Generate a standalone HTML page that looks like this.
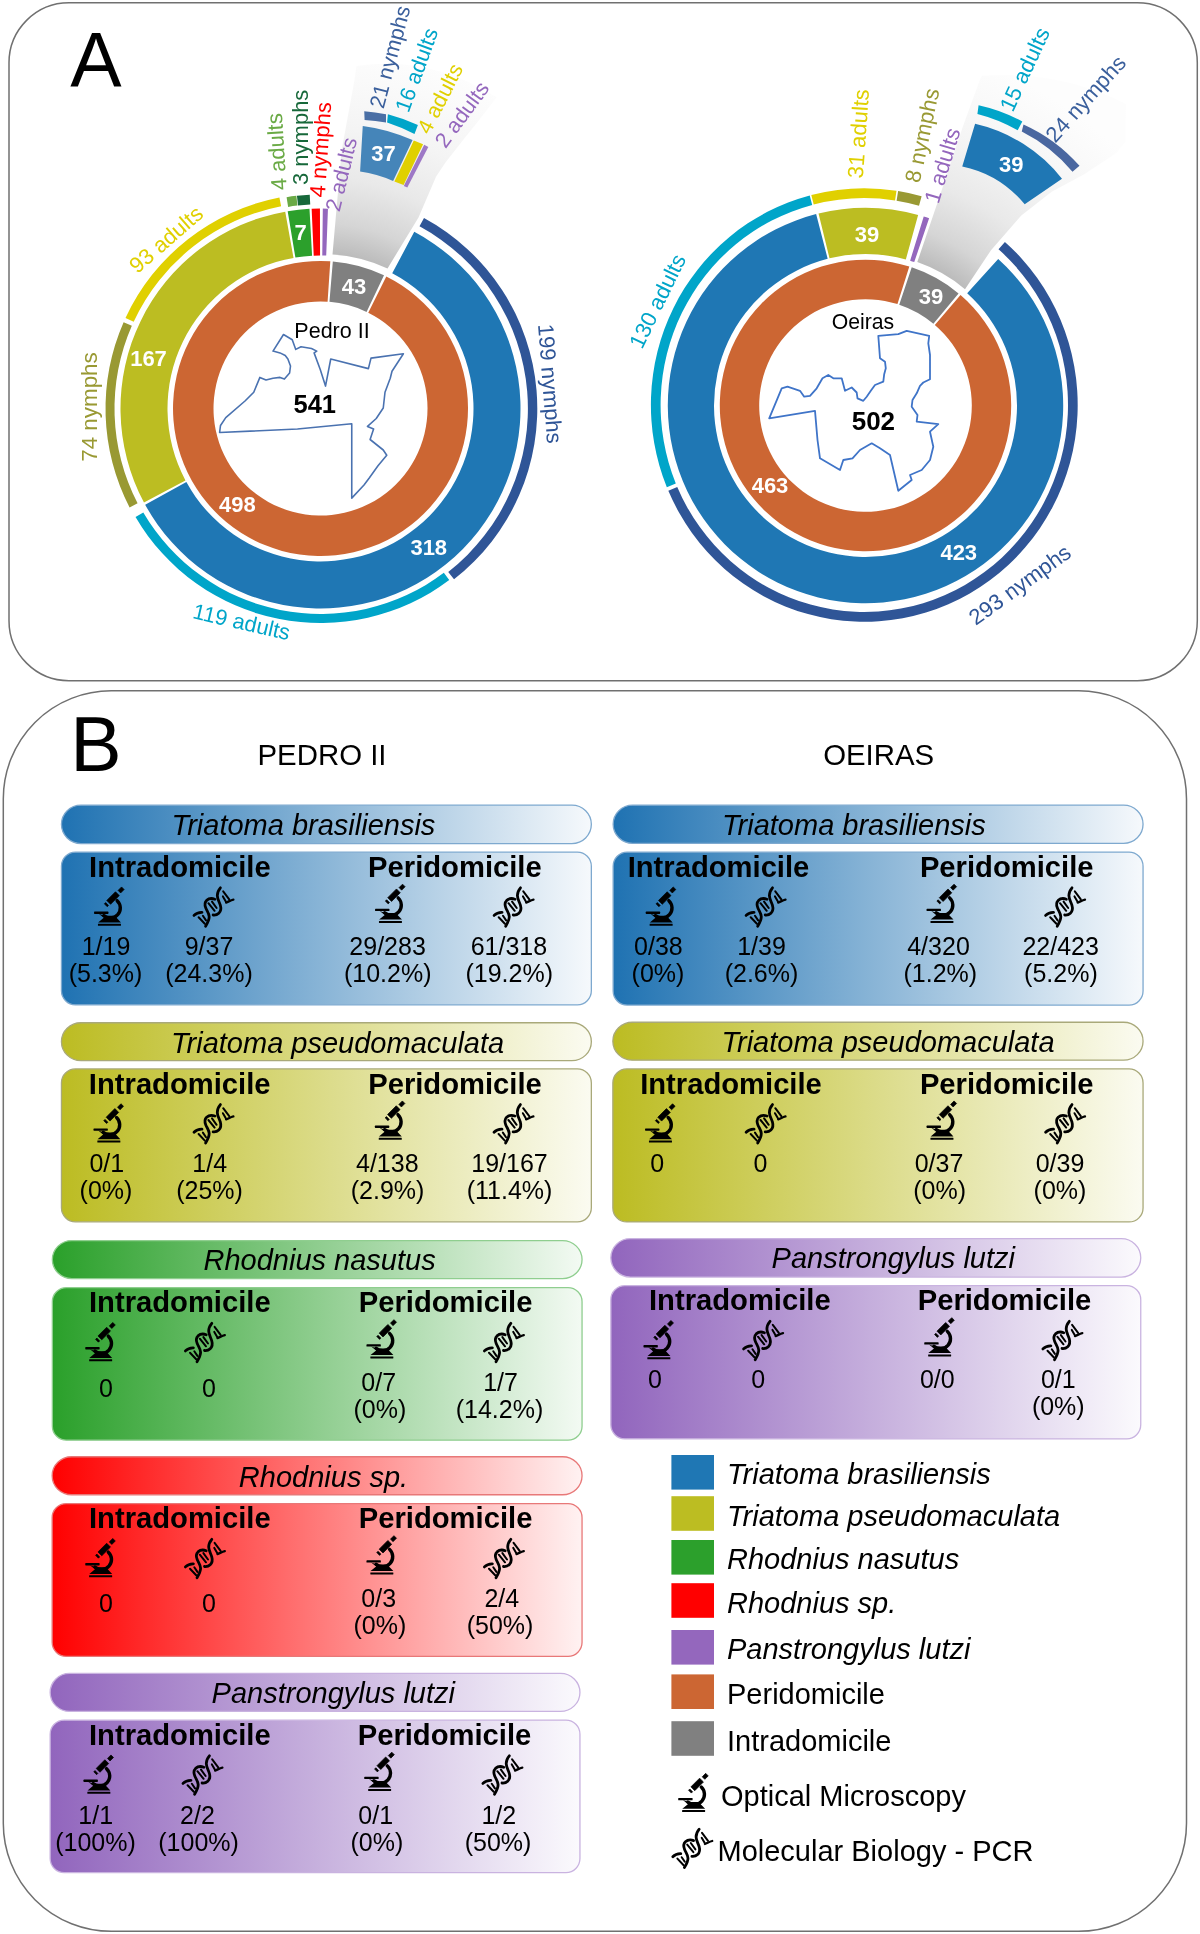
<!DOCTYPE html>
<html><head><meta charset="utf-8"><style>
html,body{margin:0;padding:0;background:#fff;}
svg{display:block;will-change:transform;}
text{font-family:"Liberation Sans",sans-serif;}
</style></head><body>
<svg width="1200" height="1934" viewBox="0 0 1200 1934">
<defs><radialGradient id="wedgeL" gradientUnits="userSpaceOnUse" cx="320.5" cy="408.5" r="360"><stop offset="0.425" stop-color="#bababa"/><stop offset="0.514" stop-color="#d5d5d5"/><stop offset="0.64" stop-color="#e9e9e9"/><stop offset="0.78" stop-color="#f4f4f4"/><stop offset="0.92" stop-color="#fafafa"/><stop offset="1" stop-color="#fdfdfd"/></radialGradient><radialGradient id="wedgeR" gradientUnits="userSpaceOnUse" cx="865.5" cy="405.5" r="360"><stop offset="0.42" stop-color="#bababa"/><stop offset="0.51" stop-color="#d5d5d5"/><stop offset="0.64" stop-color="#e9e9e9"/><stop offset="0.78" stop-color="#f4f4f4"/><stop offset="0.92" stop-color="#fafafa"/><stop offset="1" stop-color="#fdfdfd"/></radialGradient><linearGradient id="g_blue" x1="0" y1="0" x2="1" y2="0"><stop offset="0" stop-color="#1f72b2"/><stop offset="1" stop-color="#f6f9fc"/></linearGradient><linearGradient id="g_olive" x1="0" y1="0" x2="1" y2="0"><stop offset="0" stop-color="#bcbc22"/><stop offset="1" stop-color="#fbfbf1"/></linearGradient><linearGradient id="g_green" x1="0" y1="0" x2="1" y2="0"><stop offset="0" stop-color="#2aa02a"/><stop offset="1" stop-color="#f3faf3"/></linearGradient><linearGradient id="g_red" x1="0" y1="0" x2="1" y2="0"><stop offset="0" stop-color="#ff0000"/><stop offset="1" stop-color="#fff2f2"/></linearGradient><linearGradient id="g_purple" x1="0" y1="0" x2="1" y2="0"><stop offset="0" stop-color="#9165bd"/><stop offset="1" stop-color="#fbfafd"/></linearGradient><symbol id="mic" viewBox="0 0 40 46" overflow="visible"><g fill="#000"><polygon points="15.22,20.75 16.49,19.48 19.32,22.31 18.05,23.58" stroke="#000" stroke-width="0.7" stroke-linejoin="round"/><polygon points="17.62,17.36 26.32,8.66 30.14,12.48 21.44,21.18" stroke="#000" stroke-width="0.7" stroke-linejoin="round"/><polygon points="28.94,7.32 32.40,3.85 34.95,6.40 31.48,9.86" stroke="#000" stroke-width="0.7" stroke-linejoin="round"/><path d="M27.99,17.57 A10,10 0 0 1 14.61,32.43" fill="none" stroke="#000" stroke-width="3.4" stroke-linecap="round"/><rect x="4.9" y="28.5" width="14.4" height="2.3" rx="0.6"/><path d="M9.6,30.6 L14.6,34.7 L9,39.3 L31.8,39.3 L27.4,34.7 L28.6,32.6 L15.5,32.6 Z"/><rect x="8.8" y="40.6" width="23" height="2" rx="0.3"/></g></symbol><symbol id="dna" viewBox="0 0 48 48" overflow="visible"><g fill="none" stroke="#000" stroke-linecap="round" stroke-linejoin="round"><path stroke-width="2.8" d="M4.8,32.8 C6.5,31 9.5,29.6 12.8,29.7"/><path stroke-width="2.8" d="M16.4,43.6 C18,41 20,37 20,34.2 C20,31 17.8,28.5 16.6,25.5 C15.4,22.5 15.6,19.5 17.4,17.8 C19.4,16 22.6,15.5 25.6,16.6"/><path stroke-width="2.8" d="M31.2,5.2 C29.4,7.3 28.1,10 28.1,13 C28.1,16.5 30.2,19.5 31.1,22.5 C32,25.5 31.5,28.8 29.6,30.6 C27.9,32.2 25.6,32.6 23.9,32.4"/><path stroke-width="2.3" d="M36.9,20 C39,19.3 41.5,17.6 44.2,17"/><path stroke-width="2.0" d="M9.4,34.6 L15.6,41.2 M13.7,33.2 L16.8,37.8 M19.2,20.6 L25.4,28.2 M22.8,19 L27.4,25.4 M34,8.8 L40,16.8 M33.7,13.8 L36.6,18.8"/></g></symbol></defs>
<rect x="9" y="2.8" width="1188.3" height="677.9" rx="60" ry="60" fill="none" stroke="#707070" stroke-width="1.5"/>
<rect x="3.3" y="690.8" width="1183.2" height="1240.5" rx="108" ry="108" fill="none" stroke="#707070" stroke-width="1.5"/>
<text x="96.00" y="87.00" font-size="77" fill="#000" text-anchor="middle">A</text>
<text x="96.00" y="771.30" font-size="77" fill="#000" text-anchor="middle">B</text>
<path d="M332.5,254.5 L341.7,150 L354.5,80 L356.5,66 Q430,55 496.7,97.3 L476.8,123 L461.7,141.7 L445.3,162.7 L436,176.7 L418.5,217.5 L387.5,268.5 A153,153 0 0 0 332.5,254.5 Z" fill="url(#wedgeL)"/>
<path d="M332.83,261.52 A147.5,147.5 0 0 1 384.01,275.37 L366.57,311.93 A107,107 0 0 0 329.44,301.87 Z" fill="#808080" />
<path d="M386.30,276.49 A147.5,147.5 0 1 1 330.29,261.33 L327.60,301.74 A107,107 0 1 0 368.24,312.74 Z" fill="#cc6633" />
<path d="M414.26,231.84 A200,200 0 1 1 145.17,504.72 L186.37,482.11 A153,153 0 1 0 392.23,273.36 Z" fill="#1f77b4" />
<path d="M143.98,502.53 A200,200 0 0 1 285.23,211.63 L293.52,257.90 A153,153 0 0 0 185.46,480.43 Z" fill="#bcbd22" />
<path d="M287.69,211.21 A200,200 0 0 1 309.49,208.80 L312.07,255.73 A153,153 0 0 0 295.40,257.57 Z" fill="#2ca02c" />
<path d="M311.64,208.70 A200,200 0 0 1 319.94,208.50 L320.07,255.50 A153,153 0 0 0 313.72,255.65 Z" fill="#ff0000" />
<path d="M322.81,208.51 A200,200 0 0 1 327.96,208.64 L326.21,255.61 A153,153 0 0 0 322.27,255.51 Z" fill="#9467bd" />
<path d="M424.00,218.00 A216.8,216.8 0 0 1 454.02,579.30 L448.23,571.90 A207.4,207.4 0 0 0 419.51,226.26 Z" fill="#2f5597" />
<path d="M449.24,580.07 A214.5,214.5 0 0 1 135.53,517.10 L143.29,512.55 A205.5,205.5 0 0 0 443.83,572.87 Z" fill="#00a5c9" />
<path d="M129.59,507.38 A215,215 0 0 1 123.61,322.14 L131.85,325.76 A206,206 0 0 0 137.58,503.24 Z" fill="#999933" />
<path d="M125.51,317.92 A215,215 0 0 1 279.41,197.46 L281.13,206.30 A206,206 0 0 0 133.68,321.71 Z" fill="#e0d000" />
<path d="M286.59,197.20 A214,214 0 0 1 296.34,195.87 L297.45,205.61 A204.2,204.2 0 0 0 288.14,206.88 Z" fill="#6aaa45" />
<path d="M296.95,195.80 A214,214 0 0 1 309.74,194.77 L310.23,204.56 A204.2,204.2 0 0 0 298.03,205.54 Z" fill="#17683a" />
<path d="M362.75,125.9 A175,175 0 0 1 412.6,140.1 L393.1,181 A130,130 0 0 0 360.1,171.6 Z" fill="#4585b9"/>
<path d="M413.8,140.4 L423.1,144.3 L403.6,185 L394.4,181.6 Z" fill="#e0d000"/>
<path d="M424.2,144.7 L428.3,146.9 L407.3,187.6 L403.8,186 Z" fill="#9d78c6"/>
<path d="M364.25,111.25 A180,180 0 0 1 386,114.25 L386,122.5 A172,172 0 0 0 364.6,119.9 Z" fill="#4a6fa5"/>
<path d="M387.9,114.25 A180,180 0 0 1 417.9,125.1 L414.5,134.1 A172,172 0 0 0 387.1,122.5 Z" fill="#00a5c9"/>
<text x="354.00" y="293.50" font-size="22" fill="#ffffff" text-anchor="middle" font-weight="bold">43</text>
<text x="237.30" y="511.50" font-size="22" fill="#ffffff" text-anchor="middle" font-weight="bold">498</text>
<text x="428.75" y="555.00" font-size="22" fill="#ffffff" text-anchor="middle" font-weight="bold">318</text>
<text x="148.50" y="365.80" font-size="22" fill="#ffffff" text-anchor="middle" font-weight="bold">167</text>
<text x="300.60" y="240.20" font-size="22" fill="#ffffff" text-anchor="middle" font-weight="bold">7</text>
<text x="383.40" y="160.80" font-size="22" fill="#ffffff" text-anchor="middle" font-weight="bold">37</text>
<polygon points="219.6,432.5 220.5,425.5 225.75,417.6 245,401 253.75,392.25 259.9,377.4 266,380 273,378.25 280,377.4 284.4,379.1 289.6,373 290.5,366 287.9,359 285.25,355.5 280,352.9 273,351.1 283.5,334.5 292.25,339.75 295.75,349.4 301,346.75 311.5,348.5 316.75,351.1 314.1,352.9 320.25,369.5 325.5,386.1 330.75,359 368.4,368.6 371,358.1 403.4,353.75 392,371.25 390.25,378.25 385,392.25 383.25,408 376.25,418.5 367.5,426.4 373.6,429 370.1,439.5 383.25,450 386.75,455.25 378,465.75 369.25,478 364,485 351.75,498.1 351.75,423.75 297.5,429" fill="none" stroke="#4a72b0" stroke-width="1.6" stroke-linejoin="round"/>
<text x="332.00" y="338.00" font-size="21.5" fill="#000" text-anchor="middle">Pedro II</text>
<text x="314.75" y="413.25" font-size="25.5" fill="#000" text-anchor="middle" font-weight="bold">541</text>
<path d="M917.3,262.1 L941.2,191.7 L962.8,126.7 L980.2,79 L982.3,75.8 Q1060,70 1126,104 L1125.3,141.8 L1116.7,152.7 L1084.2,174.3 L1051.7,191.7 L1021.3,215.5 L991,250.2 L965,289.2 A151.5,151.5 0 0 0 917.3,262.1 Z" fill="url(#wedgeR)"/>
<path d="M911.73,267.33 A145.7,145.7 0 0 1 958.57,293.40 L933.40,323.71 A106.3,106.3 0 0 0 899.23,304.69 Z" fill="#808080" />
<path d="M960.51,295.04 A145.7,145.7 0 1 1 909.31,266.54 L897.46,304.12 A106.3,106.3 0 1 0 934.82,324.91 Z" fill="#cc6633" />
<path d="M998.20,258.95 A197.7,197.7 0 1 1 816.13,214.06 L827.67,258.80 A151.5,151.5 0 1 0 967.19,293.20 Z" fill="#1f77b4" />
<path d="M818.55,213.46 A197.7,197.7 0 0 1 918.13,214.93 L905.83,259.47 A151.5,151.5 0 0 0 829.52,258.33 Z" fill="#bcbd22" />
<path d="M923.73,216.57 A197.7,197.7 0 0 1 929.11,218.31 L914.24,262.06 A151.5,151.5 0 0 0 910.13,260.72 Z" fill="#9467bd" />
<g transform="translate(864.3,405) scale(1,1.016) translate(-864.3,-405)">
<path d="M1004.92,244.48 A213.4,213.4 0 1 1 668.33,489.48 L677.24,485.64 A203.7,203.7 0 1 0 998.53,251.78 Z" fill="#2f5597" />
<path d="M666.83,485.91 A213.4,213.4 0 0 1 809.72,198.70 L812.20,208.08 A203.7,203.7 0 0 0 675.81,482.23 Z" fill="#00a5c9" />
<path d="M811.30,198.29 A213.4,213.4 0 0 1 896.51,194.04 L895.04,203.63 A203.7,203.7 0 0 0 813.71,207.68 Z" fill="#e0d000" />
<path d="M898.12,194.30 A213.4,213.4 0 0 1 921.62,199.44 L919.01,208.78 A203.7,203.7 0 0 0 896.59,203.87 Z" fill="#999933" />
</g>
<path d="M975.1,123.8 A155,155 0 0 1 1062,178.7 L1024.7,204.3 A110,110 0 0 0 962.25,166.4 Z" fill="#1f77b4"/>
<path d="M978.6,105.2 A165,165 0 0 1 1022.3,121.5 L1017.7,130.25 A160,160 0 0 0 977.4,113.9 Z" fill="#00a5c9"/>
<path d="M1023.5,124.4 A165,165 0 0 1 1079.5,165.8 L1072.5,171.7 A160,160 0 0 0 1021.75,131.4 Z" fill="#4a67a0"/>
<text x="867.00" y="241.50" font-size="22" fill="#ffffff" text-anchor="middle" font-weight="bold">39</text>
<text x="931.00" y="303.50" font-size="22" fill="#ffffff" text-anchor="middle" font-weight="bold">39</text>
<text x="1011.25" y="172.25" font-size="22" fill="#ffffff" text-anchor="middle" font-weight="bold">39</text>
<text x="770.00" y="492.50" font-size="22" fill="#ffffff" text-anchor="middle" font-weight="bold">463</text>
<text x="958.75" y="560.00" font-size="22" fill="#ffffff" text-anchor="middle" font-weight="bold">423</text>
<polygon points="769.2,418.3 781.7,388.3 787.5,386.7 800,390.8 804.2,396.7 810,395.8 816.7,388.3 822.5,378.3 828.3,375 833.3,378.3 841.7,378.3 845,390.8 851.7,387.5 856.7,392.5 857.5,398.3 863.3,400.8 866.7,396.7 870.8,390.8 875,385 883.3,381.7 884.2,374.2 885.8,368.3 885,361.7 880,358.3 878.3,335.8 898.3,334.2 906.7,330.8 929.2,335.8 928.3,343.3 930,355 930,379.2 923.3,382.5 920,385.8 916.7,393.3 912.5,400 911.7,406.7 917.5,415 916.7,421.7 938.3,424.2 930,431.7 933.3,446.7 930,460 921.7,470 910,475 911.7,480 898.3,490.8 890,455 880,448.3 871.7,443.3 860,450 852.5,458.3 843.3,460 840,470 820,458.3 817.5,440 815,410.8" fill="none" stroke="#3f74c8" stroke-width="1.8" stroke-linejoin="round"/>
<text x="862.90" y="329.20" font-size="21.2" fill="#000" text-anchor="middle">Oeiras</text>
<text x="873.40" y="430.00" font-size="26" fill="#000" text-anchor="middle" font-weight="bold">502</text>
<text x="171.00" y="245.00" font-size="22" fill="#e0d000" text-anchor="middle" transform="rotate(-41 171.00 245.00)">93 adults</text>
<text x="97.20" y="407.00" font-size="22.4" fill="#999933" text-anchor="middle" transform="rotate(-90 97.20 407.00)">74 nymphs</text>
<text x="240.00" y="629.20" font-size="21.8" fill="#00a5c9" text-anchor="middle" transform="rotate(13 240.00 629.20)">119 adults</text>
<text x="542.60" y="384.30" font-size="22" fill="#2f5597" text-anchor="middle" transform="rotate(85.6 542.60 384.30)">199 nymphs</text>
<text x="284.30" y="151.30" font-size="22" fill="#6aaa45" text-anchor="middle" transform="rotate(-93.5 284.30 151.30)">4 adults</text>
<text x="307.80" y="137.30" font-size="22" fill="#17683a" text-anchor="middle" transform="rotate(-90 307.80 137.30)">3 nymphs</text>
<text x="328.00" y="150.20" font-size="22" fill="#ff0000" text-anchor="middle" transform="rotate(-86 328.00 150.20)">4 nymphs</text>
<text x="348.40" y="176.00" font-size="21.5" fill="#9467bd" text-anchor="middle" transform="rotate(-76.3 348.40 176.00)">2 adults</text>
<text x="397.00" y="58.80" font-size="21.5" fill="#3a5f9c" text-anchor="middle" transform="rotate(-75 397.00 58.80)">21 nymphs</text>
<text x="423.50" y="72.50" font-size="21.5" fill="#00a5c9" text-anchor="middle" transform="rotate(-70 423.50 72.50)">16 adults</text>
<text x="446.50" y="102.00" font-size="21.5" fill="#e0d000" text-anchor="middle" transform="rotate(-63 446.50 102.00)">4 adults</text>
<text x="467.80" y="118.80" font-size="21.5" fill="#9467bd" text-anchor="middle" transform="rotate(-53.7 467.80 118.80)">2 adults</text>
<text x="664.30" y="304.40" font-size="22" fill="#00a5c9" text-anchor="middle" transform="rotate(-64 664.30 304.40)">130 adults</text>
<text x="1024.30" y="590.90" font-size="22" fill="#2f5597" text-anchor="middle" transform="rotate(-36 1024.30 590.90)">293 nymphs</text>
<text x="866.00" y="134.20" font-size="22" fill="#e0d000" text-anchor="middle" transform="rotate(-86 866.00 134.20)">31 adults</text>
<text x="929.50" y="137.00" font-size="22" fill="#999933" text-anchor="middle" transform="rotate(-78 929.50 137.00)">8 nymphs</text>
<text x="949.50" y="167.50" font-size="22" fill="#9467bd" text-anchor="middle" transform="rotate(-73.3 949.50 167.50)">1 adults</text>
<text x="1031.50" y="72.50" font-size="22" fill="#00a5c9" text-anchor="middle" transform="rotate(-65 1031.50 72.50)">15 adults</text>
<text x="1091.25" y="103.75" font-size="22" fill="#3a5f9c" text-anchor="middle" transform="rotate(-48 1091.25 103.75)">24 nymphs</text>
<rect x="61.45" y="805.15" width="529.90" height="38.40" rx="19.5" fill="url(#g_blue)" stroke="#7ea9cf" stroke-width="1.3"/>
<text x="303.50" y="834.90" font-size="29" fill="#000" text-anchor="middle" font-style="italic">Triatoma brasiliensis</text>
<rect x="61.45" y="852.15" width="529.90" height="152.70" rx="14" fill="url(#g_blue)" stroke="#7ea9cf" stroke-width="1.3"/>
<text x="179.90" y="876.80" font-size="29.2" fill="#000" text-anchor="middle" font-weight="bold">Intradomicile</text>
<text x="454.90" y="876.80" font-size="29.2" fill="#000" text-anchor="middle" font-weight="bold">Peridomicile</text>
<use href="#mic" x="89.15" y="883.10" width="40" height="46"/>
<text x="106.00" y="954.80" font-size="25" fill="#000" text-anchor="middle">1/19</text>
<text x="105.50" y="982.00" font-size="25" fill="#000" text-anchor="middle">(5.3%)</text>
<use href="#dna" x="189.20" y="882.60" width="48" height="48"/>
<text x="209.00" y="954.80" font-size="25" fill="#000" text-anchor="middle">9/37</text>
<text x="209.00" y="982.00" font-size="25" fill="#000" text-anchor="middle">(24.3%)</text>
<use href="#mic" x="370.15" y="880.30" width="40" height="46"/>
<text x="387.60" y="954.80" font-size="25" fill="#000" text-anchor="middle">29/283</text>
<text x="387.70" y="982.00" font-size="25" fill="#000" text-anchor="middle">(10.2%)</text>
<use href="#dna" x="489.30" y="882.60" width="48" height="48"/>
<text x="508.90" y="954.80" font-size="25" fill="#000" text-anchor="middle">61/318</text>
<text x="509.20" y="982.00" font-size="25" fill="#000" text-anchor="middle">(19.2%)</text>
<rect x="61.45" y="1022.75" width="529.90" height="37.90" rx="19.5" fill="url(#g_olive)" stroke="#a9a97a" stroke-width="1.3"/>
<text x="337.60" y="1052.50" font-size="29" fill="#000" text-anchor="middle" font-style="italic">Triatoma pseudomaculata</text>
<rect x="61.45" y="1068.95" width="529.90" height="152.90" rx="14" fill="url(#g_olive)" stroke="#a9a97a" stroke-width="1.3"/>
<text x="179.70" y="1093.60" font-size="29.2" fill="#000" text-anchor="middle" font-weight="bold">Intradomicile</text>
<text x="455.00" y="1093.60" font-size="29.2" fill="#000" text-anchor="middle" font-weight="bold">Peridomicile</text>
<use href="#mic" x="88.55" y="1099.90" width="40" height="46"/>
<text x="106.80" y="1171.80" font-size="25" fill="#000" text-anchor="middle">0/1</text>
<text x="106.00" y="1199.00" font-size="25" fill="#000" text-anchor="middle">(0%)</text>
<use href="#dna" x="189.20" y="1099.40" width="48" height="48"/>
<text x="209.70" y="1171.80" font-size="25" fill="#000" text-anchor="middle">1/4</text>
<text x="209.50" y="1199.00" font-size="25" fill="#000" text-anchor="middle">(25%)</text>
<use href="#mic" x="369.95" y="1097.10" width="40" height="46"/>
<text x="387.30" y="1171.80" font-size="25" fill="#000" text-anchor="middle">4/138</text>
<text x="387.60" y="1199.00" font-size="25" fill="#000" text-anchor="middle">(2.9%)</text>
<use href="#dna" x="489.20" y="1099.40" width="48" height="48"/>
<text x="509.50" y="1171.80" font-size="25" fill="#000" text-anchor="middle">19/167</text>
<text x="509.50" y="1199.00" font-size="25" fill="#000" text-anchor="middle">(11.4%)</text>
<rect x="52.35" y="1240.55" width="529.70" height="38.10" rx="19.5" fill="url(#g_green)" stroke="#8fce8f" stroke-width="1.3"/>
<text x="319.60" y="1270.30" font-size="29" fill="#000" text-anchor="middle" font-style="italic">Rhodnius nasutus</text>
<rect x="52.35" y="1287.65" width="529.70" height="152.50" rx="14" fill="url(#g_green)" stroke="#8fce8f" stroke-width="1.3"/>
<text x="179.80" y="1312.30" font-size="29.2" fill="#000" text-anchor="middle" font-weight="bold">Intradomicile</text>
<text x="445.60" y="1312.30" font-size="29.2" fill="#000" text-anchor="middle" font-weight="bold">Peridomicile</text>
<use href="#mic" x="80.35" y="1318.60" width="40" height="46"/>
<text x="106.00" y="1396.80" font-size="25" fill="#000" text-anchor="middle">0</text>
<use href="#dna" x="180.60" y="1318.10" width="48" height="48"/>
<text x="208.90" y="1396.80" font-size="25" fill="#000" text-anchor="middle">0</text>
<use href="#mic" x="361.55" y="1315.80" width="40" height="46"/>
<text x="378.70" y="1391.20" font-size="25" fill="#000" text-anchor="middle">0/7</text>
<text x="379.90" y="1418.00" font-size="25" fill="#000" text-anchor="middle">(0%)</text>
<use href="#dna" x="479.60" y="1318.10" width="48" height="48"/>
<text x="500.60" y="1391.20" font-size="25" fill="#000" text-anchor="middle">1/7</text>
<text x="499.50" y="1418.00" font-size="25" fill="#000" text-anchor="middle">(14.2%)</text>
<rect x="52.15" y="1456.75" width="529.90" height="38.00" rx="19.5" fill="url(#g_red)" stroke="#e87878" stroke-width="1.3"/>
<text x="323.50" y="1486.50" font-size="29" fill="#000" text-anchor="middle" font-style="italic">Rhodnius sp.</text>
<rect x="52.15" y="1503.65" width="529.90" height="152.70" rx="14" fill="url(#g_red)" stroke="#e87878" stroke-width="1.3"/>
<text x="179.80" y="1528.30" font-size="29.2" fill="#000" text-anchor="middle" font-weight="bold">Intradomicile</text>
<text x="445.60" y="1528.30" font-size="29.2" fill="#000" text-anchor="middle" font-weight="bold">Peridomicile</text>
<use href="#mic" x="80.35" y="1534.60" width="40" height="46"/>
<text x="106.00" y="1611.80" font-size="25" fill="#000" text-anchor="middle">0</text>
<use href="#dna" x="180.60" y="1534.10" width="48" height="48"/>
<text x="208.90" y="1611.80" font-size="25" fill="#000" text-anchor="middle">0</text>
<use href="#mic" x="361.55" y="1531.80" width="40" height="46"/>
<text x="378.70" y="1607.00" font-size="25" fill="#000" text-anchor="middle">0/3</text>
<text x="379.90" y="1634.00" font-size="25" fill="#000" text-anchor="middle">(0%)</text>
<use href="#dna" x="479.60" y="1534.10" width="48" height="48"/>
<text x="501.80" y="1607.00" font-size="25" fill="#000" text-anchor="middle">2/4</text>
<text x="500.00" y="1634.00" font-size="25" fill="#000" text-anchor="middle">(50%)</text>
<rect x="50.15" y="1673.35" width="529.80" height="38.10" rx="19.5" fill="url(#g_purple)" stroke="#c9b3e0" stroke-width="1.3"/>
<text x="333.30" y="1703.10" font-size="29" fill="#000" text-anchor="middle" font-style="italic">Panstrongylus lutzi</text>
<rect x="50.15" y="1720.15" width="529.80" height="152.40" rx="14" fill="url(#g_purple)" stroke="#c9b3e0" stroke-width="1.3"/>
<text x="179.80" y="1744.80" font-size="29.2" fill="#000" text-anchor="middle" font-weight="bold">Intradomicile</text>
<text x="444.50" y="1744.80" font-size="29.2" fill="#000" text-anchor="middle" font-weight="bold">Peridomicile</text>
<use href="#mic" x="78.55" y="1751.10" width="40" height="46"/>
<text x="95.70" y="1823.90" font-size="25" fill="#000" text-anchor="middle">1/1</text>
<text x="95.50" y="1850.90" font-size="25" fill="#000" text-anchor="middle">(100%)</text>
<use href="#dna" x="178.20" y="1750.60" width="48" height="48"/>
<text x="197.50" y="1823.90" font-size="25" fill="#000" text-anchor="middle">2/2</text>
<text x="198.60" y="1850.90" font-size="25" fill="#000" text-anchor="middle">(100%)</text>
<use href="#mic" x="359.35" y="1748.30" width="40" height="46"/>
<text x="375.70" y="1823.90" font-size="25" fill="#000" text-anchor="middle">0/1</text>
<text x="376.90" y="1850.90" font-size="25" fill="#000" text-anchor="middle">(0%)</text>
<use href="#dna" x="478.10" y="1750.60" width="48" height="48"/>
<text x="498.80" y="1823.90" font-size="25" fill="#000" text-anchor="middle">1/2</text>
<text x="498.00" y="1850.90" font-size="25" fill="#000" text-anchor="middle">(50%)</text>
<rect x="613.15" y="805.15" width="529.90" height="38.20" rx="19.5" fill="url(#g_blue)" stroke="#7ea9cf" stroke-width="1.3"/>
<text x="853.90" y="834.90" font-size="29" fill="#000" text-anchor="middle" font-style="italic">Triatoma brasiliensis</text>
<rect x="613.15" y="852.15" width="529.90" height="152.90" rx="14" fill="url(#g_blue)" stroke="#7ea9cf" stroke-width="1.3"/>
<text x="718.50" y="876.80" font-size="29.2" fill="#000" text-anchor="middle" font-weight="bold">Intradomicile</text>
<text x="1006.70" y="876.80" font-size="29.2" fill="#000" text-anchor="middle" font-weight="bold">Peridomicile</text>
<use href="#mic" x="640.85" y="883.10" width="40" height="46"/>
<text x="658.40" y="954.80" font-size="25" fill="#000" text-anchor="middle">0/38</text>
<text x="658.00" y="982.00" font-size="25" fill="#000" text-anchor="middle">(0%)</text>
<use href="#dna" x="741.30" y="882.60" width="48" height="48"/>
<text x="761.50" y="954.80" font-size="25" fill="#000" text-anchor="middle">1/39</text>
<text x="761.50" y="982.00" font-size="25" fill="#000" text-anchor="middle">(2.6%)</text>
<use href="#mic" x="921.65" y="880.30" width="40" height="46"/>
<text x="938.50" y="954.80" font-size="25" fill="#000" text-anchor="middle">4/320</text>
<text x="940.30" y="982.00" font-size="25" fill="#000" text-anchor="middle">(1.2%)</text>
<use href="#dna" x="1040.80" y="882.60" width="48" height="48"/>
<text x="1060.70" y="954.80" font-size="25" fill="#000" text-anchor="middle">22/423</text>
<text x="1060.90" y="982.00" font-size="25" fill="#000" text-anchor="middle">(5.2%)</text>
<rect x="612.85" y="1022.25" width="530.20" height="37.90" rx="19.5" fill="url(#g_olive)" stroke="#a9a97a" stroke-width="1.3"/>
<text x="888.00" y="1052.00" font-size="29" fill="#000" text-anchor="middle" font-style="italic">Triatoma pseudomaculata</text>
<rect x="612.85" y="1068.95" width="530.20" height="153.00" rx="14" fill="url(#g_olive)" stroke="#a9a97a" stroke-width="1.3"/>
<text x="731.00" y="1093.60" font-size="29.2" fill="#000" text-anchor="middle" font-weight="bold">Intradomicile</text>
<text x="1006.70" y="1093.60" font-size="29.2" fill="#000" text-anchor="middle" font-weight="bold">Peridomicile</text>
<use href="#mic" x="640.15" y="1099.90" width="40" height="46"/>
<text x="657.30" y="1172.30" font-size="25" fill="#000" text-anchor="middle">0</text>
<use href="#dna" x="741.30" y="1099.40" width="48" height="48"/>
<text x="760.50" y="1172.30" font-size="25" fill="#000" text-anchor="middle">0</text>
<use href="#mic" x="921.65" y="1097.10" width="40" height="46"/>
<text x="939.00" y="1172.30" font-size="25" fill="#000" text-anchor="middle">0/37</text>
<text x="939.60" y="1199.30" font-size="25" fill="#000" text-anchor="middle">(0%)</text>
<use href="#dna" x="1040.80" y="1099.40" width="48" height="48"/>
<text x="1060.00" y="1172.30" font-size="25" fill="#000" text-anchor="middle">0/39</text>
<text x="1060.00" y="1199.30" font-size="25" fill="#000" text-anchor="middle">(0%)</text>
<rect x="610.85" y="1238.65" width="529.90" height="38.40" rx="19.5" fill="url(#g_purple)" stroke="#c9b3e0" stroke-width="1.3"/>
<text x="893.30" y="1268.40" font-size="29" fill="#000" text-anchor="middle" font-style="italic">Panstrongylus lutzi</text>
<rect x="610.85" y="1285.65" width="529.90" height="153.20" rx="14" fill="url(#g_purple)" stroke="#c9b3e0" stroke-width="1.3"/>
<text x="739.80" y="1310.30" font-size="29.2" fill="#000" text-anchor="middle" font-weight="bold">Intradomicile</text>
<text x="1004.50" y="1310.30" font-size="29.2" fill="#000" text-anchor="middle" font-weight="bold">Peridomicile</text>
<use href="#mic" x="638.55" y="1316.60" width="40" height="46"/>
<text x="655.00" y="1387.60" font-size="25" fill="#000" text-anchor="middle">0</text>
<use href="#dna" x="738.80" y="1316.10" width="48" height="48"/>
<text x="758.30" y="1387.60" font-size="25" fill="#000" text-anchor="middle">0</text>
<use href="#mic" x="919.35" y="1313.80" width="40" height="46"/>
<text x="937.30" y="1387.60" font-size="25" fill="#000" text-anchor="middle">0/0</text>
<use href="#dna" x="1038.10" y="1316.10" width="48" height="48"/>
<text x="1058.30" y="1387.60" font-size="25" fill="#000" text-anchor="middle">0/1</text>
<text x="1058.30" y="1414.80" font-size="25" fill="#000" text-anchor="middle">(0%)</text>
<text x="322.00" y="764.90" font-size="29.4" fill="#000" text-anchor="middle">PEDRO II</text>
<text x="878.70" y="765.00" font-size="29.4" fill="#000" text-anchor="middle">OEIRAS</text>
<rect x="671.4" y="1455" width="42.6" height="34.6" fill="#1f77b4"/>
<text x="727.00" y="1484.30" font-size="29" fill="#000" text-anchor="start" font-style="italic">Triatoma brasiliensis</text>
<rect x="671.4" y="1496.2" width="42.6" height="34.6" fill="#bcbd22"/>
<text x="727.00" y="1525.50" font-size="29" fill="#000" text-anchor="start" font-style="italic">Triatoma pseudomaculata</text>
<rect x="671.4" y="1540" width="42.6" height="34.6" fill="#2ca02c"/>
<text x="727.00" y="1569.30" font-size="29" fill="#000" text-anchor="start" font-style="italic">Rhodnius nasutus</text>
<rect x="671.4" y="1583.2" width="42.6" height="34.6" fill="#ff0000"/>
<text x="727.00" y="1612.50" font-size="29" fill="#000" text-anchor="start" font-style="italic">Rhodnius sp.</text>
<rect x="671.4" y="1630" width="42.6" height="34.6" fill="#9467bd"/>
<text x="727.00" y="1659.30" font-size="29" fill="#000" text-anchor="start" font-style="italic">Panstrongylus lutzi</text>
<rect x="671.4" y="1674.4" width="42.6" height="34.6" fill="#cc6633"/>
<text x="727.00" y="1703.70" font-size="29" fill="#000" text-anchor="start">Peridomicile</text>
<rect x="671.4" y="1721.2" width="42.6" height="34.6" fill="#808080"/>
<text x="727.00" y="1750.50" font-size="29" fill="#000" text-anchor="start">Intradomicile</text>
<use href="#mic" x="673.30" y="1769.50" width="40" height="46"/>
<text x="721.00" y="1806.00" font-size="29" fill="#000" text-anchor="start">Optical Microscopy</text>
<use href="#dna" x="668.00" y="1824.00" width="48" height="48"/>
<text x="717.50" y="1860.50" font-size="29" fill="#000" text-anchor="start">Molecular Biology - PCR</text>
</svg></body></html>
